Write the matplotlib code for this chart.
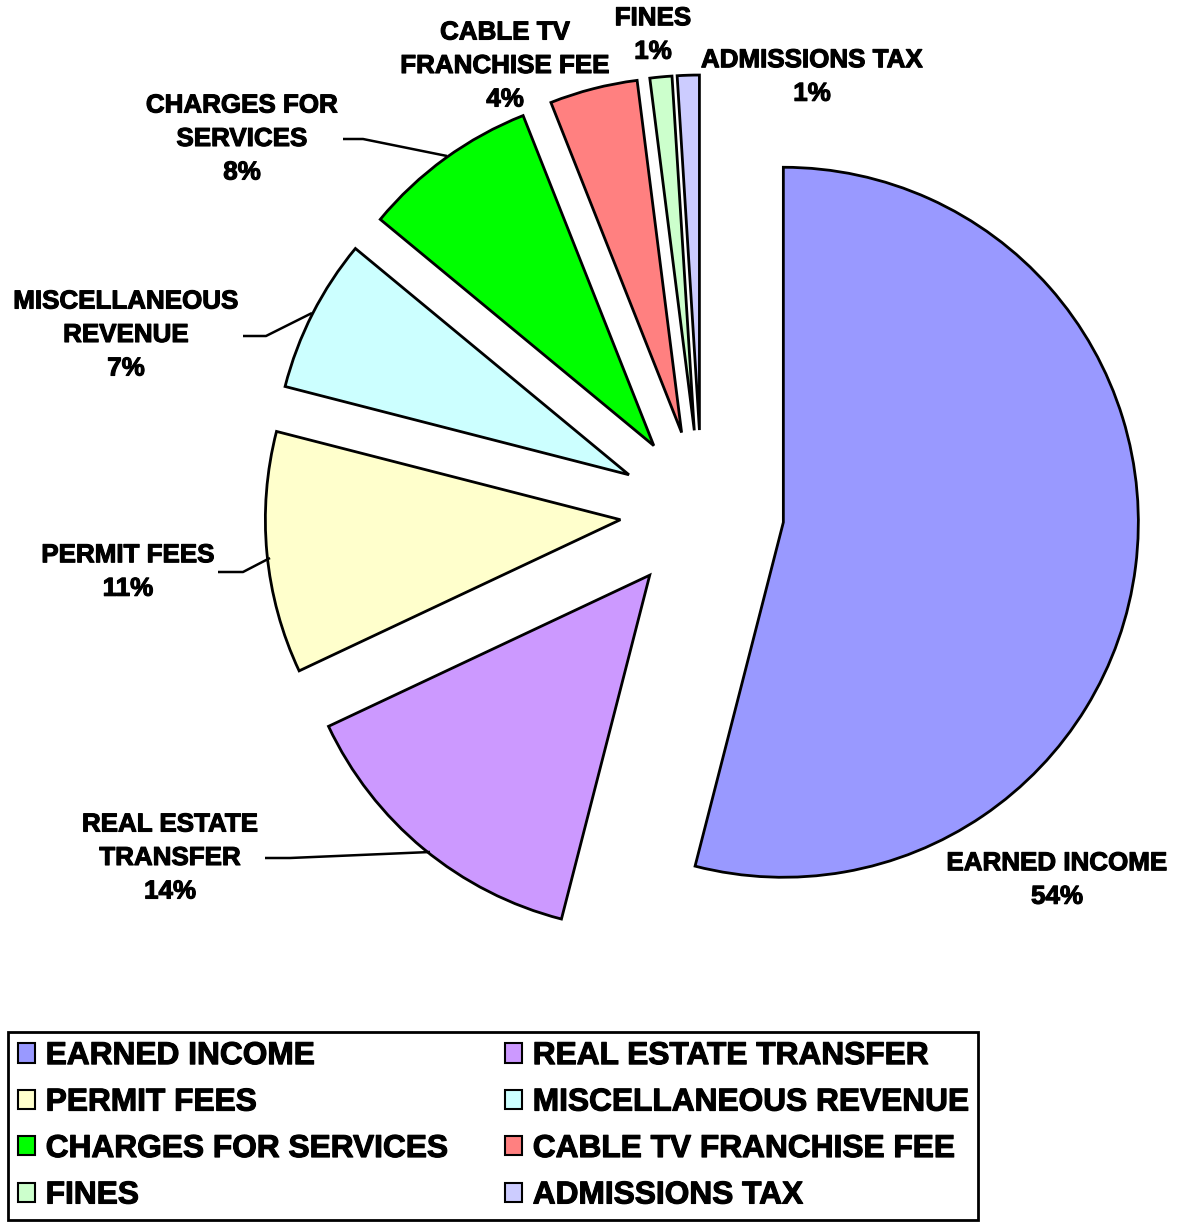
import matplotlib
matplotlib.use("Agg")
import matplotlib.pyplot as plt
from matplotlib.patches import Rectangle
import matplotlib.patheffects as pe

plt.rcParams['font.family'] = ['Liberation Sans', 'DejaVu Sans']

categories = ["EARNED INCOME", "REAL ESTATE TRANSFER", "PERMIT FEES",
              "MISCELLANEOUS REVENUE", "CHARGES FOR SERVICES",
              "CABLE TV FRANCHISE FEE", "FINES", "ADMISSIONS TAX"]
values = [54, 14, 11, 7, 8, 4, 1, 1]
label_text = ["EARNED INCOME", "REAL ESTATE\nTRANSFER", "PERMIT FEES",
              "MISCELLANEOUS\nREVENUE", "CHARGES FOR\nSERVICES",
              "CABLE TV\nFRANCHISE FEE", "FINES", "ADMISSIONS TAX"]
colors = ["#9999FF", "#CC99FF", "#FFFFCC", "#CCFFFF", "#00FF00",
          "#FF8080", "#CCFFCC", "#CCCCFF"]

W, H = 1188, 1222
fig = plt.figure(figsize=(W / 100, H / 100), dpi=100)
ax = fig.add_axes([0, 0, 1, 1])

R = 355
cx, cy = 702, 512  # pixel coords (y down)
wedges, _ = ax.pie(values, colors=colors, startangle=90, counterclock=False,
                   explode=[82] * len(values), radius=R, center=(cx, H - cy),
                   wedgeprops=dict(edgecolor='black', linewidth=2))
ax.set_xlim(0, W)
ax.set_ylim(0, H)
ax.set_aspect('equal')
ax.axis('off')

heavy = [pe.withStroke(linewidth=0.8, foreground='black')]

# label positions (pixel coords, center of text block)
label_pos = [(1057, 880), (170, 858), (128, 572), (126, 335), (242, 139),
             (505, 66), (653, 35), (812, 77)]
for txt, v, (lx, ly) in zip(label_text, values, label_pos):
    ax.text(lx, H - ly, f"{txt}\n{v}%", ha='center', va='center',
            fontsize=18.7, fontweight='bold', linespacing=1.5,
            path_effects=heavy)

# leader lines (pixel coords)
leaders = [
    [(265, 858), (290, 858), (430, 852)],
    [(218, 572), (243, 572), (270, 558)],
    [(243, 336), (266, 336), (312, 313)],
    [(343, 139), (363, 139), (447, 156)],
]
for pts in leaders:
    xs = [p[0] for p in pts]
    ys = [H - p[1] for p in pts]
    ax.plot(xs, ys, color='black', lw=1.8, solid_capstyle='butt')

handles = [Rectangle((0, 0), 1, 1, facecolor=c, edgecolor='black', lw=1.5)
           for c in colors]
# reorder so legend fills row by row in two columns
order = list(range(0, len(categories), 2)) + list(range(1, len(categories), 2))
leg = fig.legend([handles[i] for i in order], [categories[i] for i in order],
                 ncol=2, loc='lower left',
                 bbox_to_anchor=(8 / W, 2 / H, 970 / W, 190 / H),
                 mode='expand',
                 prop=dict(size=22.8, weight='bold'), frameon=True,
                 fancybox=False, edgecolor='black', framealpha=1,
                 handlelength=0.56, handleheight=0.56, handletextpad=0.33,
                 labelspacing=0.52, columnspacing=1.0, borderaxespad=0,
                 borderpad=0.3)
leg.get_frame().set_linewidth(2)
for t in leg.get_texts():
    t.set_path_effects(heavy)

fig.savefig("out.png", dpi=100)
